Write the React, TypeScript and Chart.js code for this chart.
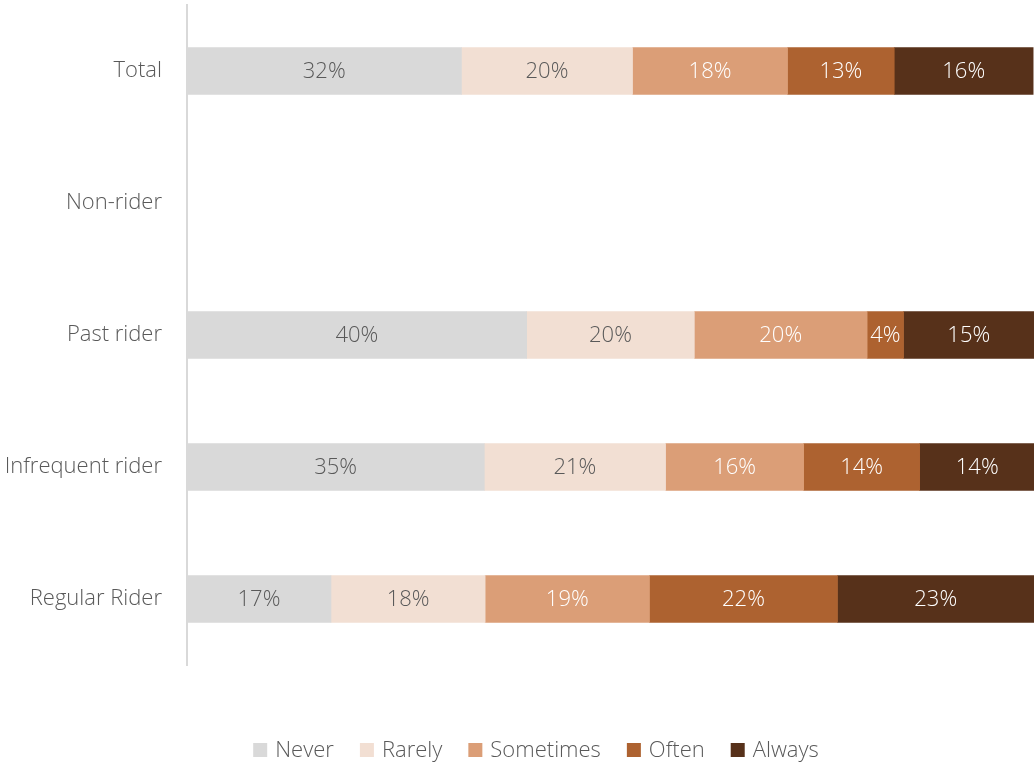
import React, { useEffect, useRef } from "react";
import { Chart, registerables } from "chart.js";

Chart.register(...registerables);

const categories = ["Total", "Non-rider", "Past rider", "Infrequent rider", "Regular Rider"];
const seriesNames = ["Never", "Rarely", "Sometimes", "Often", "Always"];
const never = [32.4, null, 40.1, 35.1, 17.0];
const rarely = [20.2, null, 19.8, 21.4, 18.2];
const sometimes = [18.3, null, 20.4, 16.3, 19.4];
const often = [12.6, null, 4.3, 13.7, 22.2];
const always = [16.4, null, 15.4, 13.6, 23.2];
const seriesColors = ["#D9D9D9", "#F2DFD3", "#DB9E77", "#AD6230", "#57311A"];
const labelColors = ["#595959", "#595959", "#FFFFFF", "#FFFFFF", "#FFFFFF"];

const FONT = "'Open Sans', 'Noto Sans', sans-serif";
const FSIZE = 22;

const barLabelPlugin = {
  id: "barLabels",
  afterDatasetsDraw(chart: any) {
    const ctx = chart.ctx;
    ctx.save();
    ctx.font = `300 ${FSIZE}px ${FONT}`;
    ctx.textAlign = "center";
    ctx.textBaseline = "middle";
    chart.data.datasets.forEach((ds: any, di: number) => {
      const meta = chart.getDatasetMeta(di);
      meta.data.forEach((el: any, i: number) => {
        const v = ds.data[i];
        if (v == null) return;
        ctx.fillStyle = labelColors[di];
        ctx.fillText(Math.round(v) + "%", (el.x + el.base) / 2, el.y + 1);
      });
    });
    ctx.restore();
  },
};

const legendPlugin = {
  id: "customLegend",
  afterDraw(chart: any) {
    const ctx = chart.ctx;
    ctx.save();
    ctx.font = `300 ${FSIZE}px ${FONT}`;
    ctx.textBaseline = "middle";
    const box = 14;
    const gapText = 8;
    const gapItem = 26;
    const ds = chart.data.datasets;
    const widths = ds.map((d: any) => box + gapText + ctx.measureText(d.label).width);
    const total = widths.reduce((a: number, b: number) => a + b, 0) + gapItem * (ds.length - 1);
    let x = 536 - total / 2;
    const y = 750;
    ds.forEach((d: any, i: number) => {
      ctx.fillStyle = d.backgroundColor;
      ctx.fillRect(x, y - box / 2, box, box);
      ctx.fillStyle = "#595959";
      ctx.fillText(d.label, x + box + gapText, y + 1);
      x += widths[i] + gapItem;
    });
    ctx.restore();
  },
};

export default function App() {
  const ref = useRef<HTMLCanvasElement>(null);
  useEffect(() => {
    const allData = [never, rarely, sometimes, often, always];
    const chart = new Chart(ref.current as HTMLCanvasElement, {
      type: "bar",
      data: {
        labels: categories,
        datasets: seriesNames.map((name, i) => ({
          label: name,
          data: allData[i] as any,
          backgroundColor: seriesColors[i],
          borderWidth: 0,
          barThickness: 47,
        })),
      },
      options: {
        indexAxis: "y",
        animation: false,
        responsive: true,
        maintainAspectRatio: false,
        layout: { padding: { top: 5, bottom: 100, left: 0, right: 1 } },
        plugins: {
          legend: { display: false },
          tooltip: { enabled: false },
        },
        scales: {
          x: { stacked: true, min: 0, max: 100, display: false },
          y: {
            stacked: true,
            grid: { display: false, drawTicks: false },
            border: { display: true, color: "#D9D9D9", width: 2 },
            ticks: {
              color: "#595959",
              font: { family: FONT, size: FSIZE, weight: "300" as any },
              padding: 25,
            },
            afterFit: (scale: any) => {
              scale.width = 187;
              scale.paddingTop = 0;
              scale.paddingBottom = 0;
            },
          },
        },
      },
      plugins: [barLabelPlugin, legendPlugin],
    });
    return () => chart.destroy();
  }, []);
  return (
    <div style={{ position: "fixed", left: 0, top: 0, width: 1035, height: 765, background: "#fff" }}>
      <canvas ref={ref} />
    </div>
  );
}
